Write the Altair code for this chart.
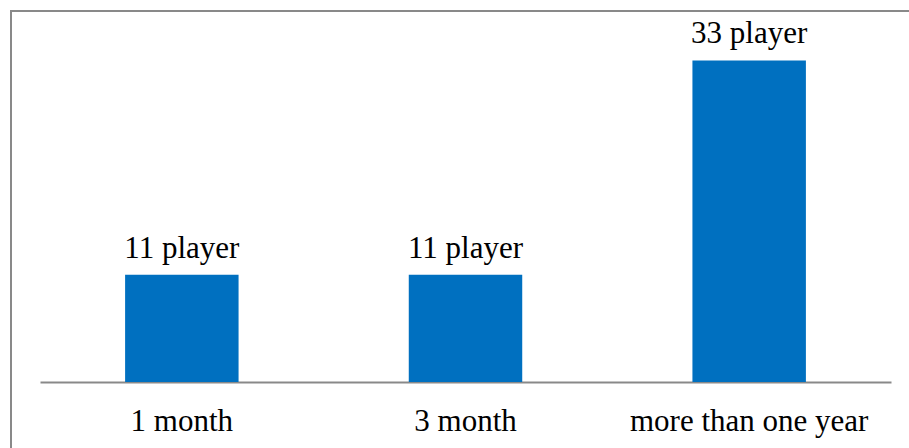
import altair as alt
import pandas as pd

# Time spent playing, number of players per group
categories = ["1 month", "3 month", "more than one year"]
players = [11, 11, 33]
labels = [f"{v} player" for v in players]

df = pd.DataFrame({"period": categories, "players": players, "label": labels})

FONT = "Liberation Serif"
GRAY = "#898989"
BLUE = "#0070C0"

x = alt.X(
    "period:N",
    sort=categories,
    title=None,
    scale=alt.Scale(paddingInner=0.6, paddingOuter=0.3),
    axis=alt.Axis(
        labelAngle=0,
        labelFont=FONT,
        labelFontSize=31,
        labelColor="black",
        labelBaseline="alphabetic",
        labelPadding=48,
        labelLimit=0,
        labelOverlap=False,
        ticks=False,
        tickSize=0,
        domainColor=GRAY,
        domainWidth=2,
        grid=False,
    ),
)
y = alt.Y("players:Q", scale=alt.Scale(domain=[0, 35]), axis=None)

# outer frame of the chart box
frame = alt.Chart(pd.DataFrame({"k": [0]})).mark_rect(
    fill=None, stroke=GRAY, strokeWidth=2
).encode(
    x=alt.value(-29), x2=alt.value(900), y=alt.value(-30), y2=alt.value(440)
)

bars = alt.Chart(df).mark_bar(color=BLUE).encode(x=x, y=y)

text = alt.Chart(df).mark_text(
    font=FONT, fontSize=31, color="black", baseline="alphabetic", dy=-17
).encode(x=x, y=y, text="label:N")

chart = (
    alt.layer(frame, bars, text)
    .properties(
        width=851,
        height=341,
        autosize=alt.AutoSizeParams(type="none"),
        padding={"left": 40, "top": 41, "right": 18, "bottom": 66},
        background="white",
    )
    .configure_view(stroke=None)
)

chart.save("out.html", embed_options={"renderer": "svg", "actions": False})
